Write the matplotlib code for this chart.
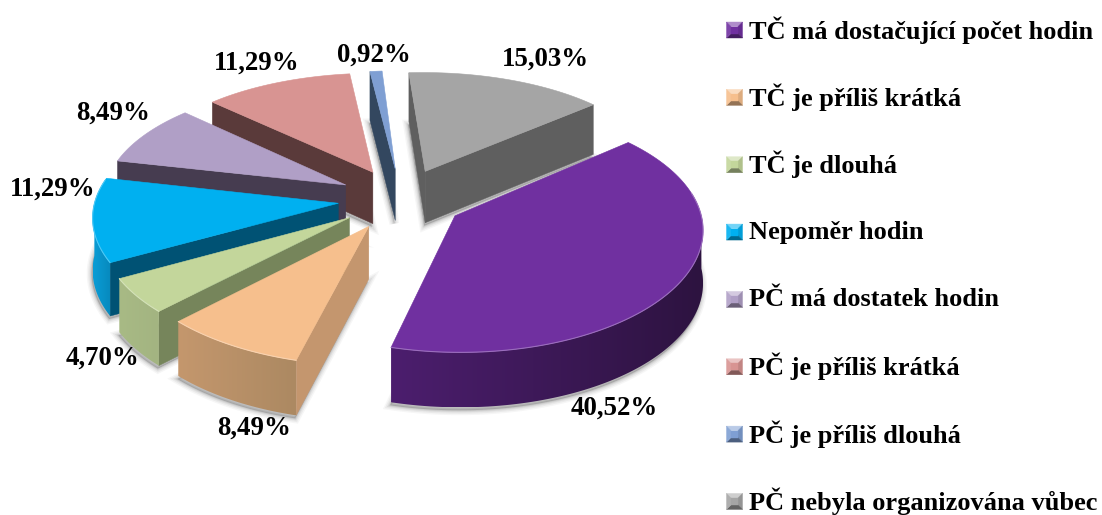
import matplotlib
matplotlib.use('Agg')
import matplotlib.pyplot as plt
import numpy as np
from matplotlib.colors import LinearSegmentedColormap, to_rgb
from matplotlib.patches import Polygon

labels = ['TČ má dostačující počet hodin', 'TČ je příliš krátká', 'TČ je dlouhá', 'Nepoměr hodin',
          'PČ má dostatek hodin', 'PČ je příliš krátká', 'PČ je příliš dlouhá', 'PČ nebyla organizována vůbec']
values = [40.52, 8.49, 4.70, 11.29, 8.49, 11.29, 0.92, 15.03]

top_colors = ['#7030a0', '#f6bf8d', '#c3d69b', '#00b0f0', '#b09fc6', '#d89492', '#7f9fd3', '#a5a5a5']
side_colors = ['#33174c', '#c4966e', '#76855b', '#005274', '#463c50', '#5a3a3a', '#33475f', '#5f5f5f']
arc_light = ['#4c1e6e', '#c4976d', '#a8ba85', '#0a9dd6', '#463c50', '#5a3a3a', '#33475f', '#5f5f5f']
arc_dark = ['#2d1340', '#ac8962', '#a3b481', '#0789bd', '#463c50', '#5a3a3a', '#33475f', '#5f5f5f']

# pixel positions of the value labels, one per slice
label_xy = [(614, 408), (254, 428), (103, 358), (53, 189), (113, 113), (257, 63), (374, 55), (545, 59)]

START = 50.0
CX, CY = 401.0, 199.0
RADIUS = 243.0
EXPLODE = 63.0
TILT = 0.49
PERSP_X = 0.10
PERSP_Y = 0.115
PERSP_Z = 0.05
DEPTH = 52.0
LEGEND_Y0, LEGEND_STEP = 30.0, 67.35

FONT = 'Liberation Serif'
TEXT_COLOR = '#000000'


def project(x, y, z=0.0):
    sx = 1 - PERSP_X * y / RADIUS
    sy = 1 - PERSP_Y * y / RADIUS
    sz = 1 - PERSP_Z * y / RADIUS
    return CX + sx * x, CY - TILT * sy * y + sz * z


def mix(c1, c2, t):
    a, b = np.array(to_rgb(c1)), np.array(to_rgb(c2))
    return tuple(a + (b - a) * t)


def gradient_fill(ax, points, left, right, zorder):
    # horizontal colour ramp clipped to the wall outline
    clip = Polygon(points, closed=True, fc='none', ec='none', transform=ax.transData)
    ax.add_patch(clip)
    cmap = LinearSegmentedColormap.from_list('wall', [left, right])
    x0, x1 = points[:, 0].min(), points[:, 0].max()
    y0, y1 = points[:, 1].min(), points[:, 1].max()
    im = ax.imshow(np.linspace(0, 1, 128)[None, :], cmap=cmap, extent=(x0, x1, y1, y0), aspect='auto',
                   interpolation='bilinear', zorder=zorder)
    im.set_clip_path(clip)


def draw_slice(ax, a0, a1, i, layer):
    mid = np.radians((a0 + a1) / 2)
    ox, oy = EXPLODE * np.sin(mid), EXPLODE * np.cos(mid)
    ang = np.radians(np.linspace(a0, a1, 120))
    arc_x = ox + RADIUS * np.sin(ang)
    arc_y = oy + RADIUS * np.cos(ang)

    top = np.column_stack(project(np.r_[ox, arc_x], np.r_[oy, arc_y]))
    bottom = np.column_stack(project(np.r_[ox, arc_x], np.r_[oy, arc_y], DEPTH))

    # soft shadow under the slice
    for grow, alpha in zip([7, 5, 3, 1.5], [0.05, 0.07, 0.09, 0.12]):
        ax.add_patch(Polygon(bottom + [-1, 3], closed=True, fc='#555555', ec='#555555', lw=grow, alpha=alpha,
                             zorder=layer))

    # only the walls that face the viewer are drawn
    for end, normal in ((1, a0 - 90), (len(top) - 1, a1 + 90)):
        if np.cos(np.radians(normal)) < 0:
            quad = np.array([top[0], top[end], bottom[end], bottom[0]])
            ax.add_patch(Polygon(quad, closed=True, fc=side_colors[i], ec=side_colors[i], lw=0.3, zorder=layer + 1))

    front = np.cos(ang) < 0
    if front.any():
        outline = np.vstack([top[1:][front], bottom[1:][front][::-1]])
        gradient_fill(ax, outline, arc_light[i], arc_dark[i], layer + 1)

    ax.add_patch(Polygon(top, closed=True, fc=top_colors[i], ec=top_colors[i], lw=0.4, zorder=layer + 2))
    # bevel along the front rim
    rim = np.cos(ang) < 0.2
    if rim.any():
        ax.plot(top[1:][rim, 0], top[1:][rim, 1], color=mix(top_colors[i], '#ffffff', 0.3), lw=0.8,
                zorder=layer + 3, solid_capstyle='round')


def draw_key(ax, x, y, color):
    size = 8.0
    inner = 3.5
    c = to_rgb(color)
    corners = [(x - size, y - size), (x + size, y - size), (x + size, y + size), (x - size, y + size)]
    inners = [(x - inner, y - inner), (x + inner, y - inner), (x + inner, y + inner), (x - inner, y + inner)]
    shades = [mix(c, '#ffffff', 0.45), mix(c, '#000000', 0.1), mix(c, '#000000', 0.4), mix(c, '#ffffff', 0.1)]
    for k in range(4):
        m = (k + 1) % 4
        ax.add_patch(Polygon([corners[k], corners[m], inners[m], inners[k]], closed=True, fc=shades[k], ec=shades[k],
                             lw=0.3, zorder=100))
    ax.add_patch(Polygon(inners, closed=True, fc=c, ec=c, lw=0.3, zorder=100))


fig = plt.figure(figsize=(11.02, 5.15), dpi=100)
ax = fig.add_axes([0, 0, 1, 1])
ax.axis('off')

sweeps = np.array(values) / sum(values) * 360
edges = START + np.r_[0, np.cumsum(sweeps)]

# back slices first, the purple one sits in front of everything
for rank, i in enumerate([7, 6, 5, 4, 3, 2, 1, 0]):
    draw_slice(ax, edges[i], edges[i + 1], i, rank * 10 + 1)

for i, value in enumerate(values):
    ax.text(label_xy[i][0], label_xy[i][1], f'{value:.2f}%'.replace('.', ','), family=FONT, weight='bold',
            fontsize=19.4, ha='center', va='center', color=TEXT_COLOR, zorder=200)

for i, label in enumerate(labels):
    y = LEGEND_Y0 + i * LEGEND_STEP
    draw_key(ax, 734.5, y, top_colors[i])
    ax.text(749, y, label, family=FONT, weight='bold', fontsize=19, ha='left', va='center', color=TEXT_COLOR,
            zorder=200)

ax.set_xlim(0, 1102)
ax.set_ylim(515, 0)
fig.savefig('out.png', dpi=100)
